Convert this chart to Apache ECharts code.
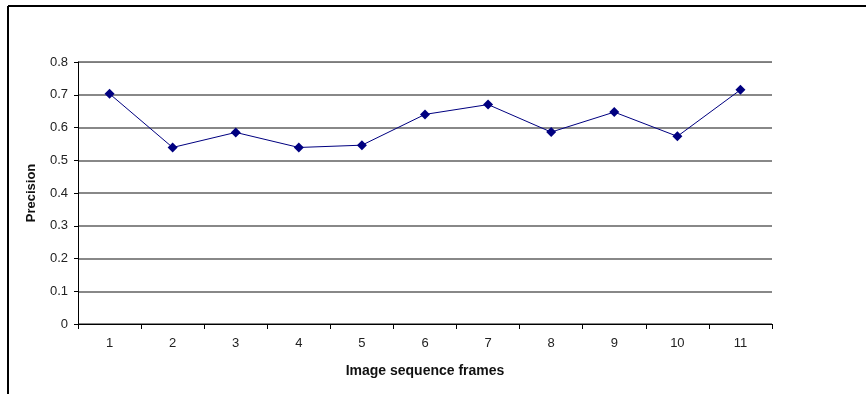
<!DOCTYPE html>
<html>
<head>
<meta charset="utf-8">
<script src="https://cdn.jsdelivr.net/npm/echarts@6/dist/echarts.min.js"></script>
<style>html,body{margin:0;padding:0;background:#fff}#c{width:866px;height:394px}</style>
</head>
<body>
<div id="c"></div>
<script>
var categories = ['1','2','3','4','5','6','7','8','9','10','11'];
var precision = [0.703, 0.539, 0.585, 0.539, 0.546, 0.640, 0.670, 0.586, 0.647, 0.573, 0.715];
var xTitle = 'Image sequence frames';
var yTitle = 'Precision';

var chart = echarts.init(document.getElementById('c'), null, {renderer: 'canvas'});
chart.setOption({
  animation: false,
  backgroundColor: '#fff',
  grid: {left: 78, right: 94, top: 62, bottom: 70, show: false},
  graphic: [
    {type: 'line', shape: {x1: 8, y1: 6, x2: 866, y2: 6}, style: {stroke: '#000', lineWidth: 2}},
    {type: 'line', shape: {x1: 8, y1: 6, x2: 8, y2: 394}, style: {stroke: '#000', lineWidth: 2}},
    {type: 'line', shape: {x1: 78, y1: 62.5, x2: 772, y2: 62.5}, style: {stroke: '#d0d0d0', lineWidth: 1}}
  ],
  xAxis: {
    type: 'category',
    data: categories,
    boundaryGap: true,
    name: xTitle,
    nameLocation: 'middle',
    nameGap: 40,
    nameTextStyle: {fontFamily: 'Liberation Sans', fontSize: 14, fontWeight: 'bold', color: '#111'},
    axisLine: {lineStyle: {color: '#000', width: 1}},
    axisTick: {show: true, alignWithLabel: false, length: 5, lineStyle: {color: '#000'}},
    axisLabel: {fontFamily: 'Liberation Sans', fontSize: 13, color: '#222', margin: 13},
    splitLine: {show: false}
  },
  yAxis: {
    type: 'value',
    min: 0, max: 0.8, interval: 0.1,
    name: yTitle,
    nameLocation: 'middle',
    nameGap: 40,
    nameTextStyle: {fontFamily: 'Liberation Sans', fontSize: 13, fontWeight: 'bold', color: '#111'},
    axisLine: {show: true, lineStyle: {color: '#000', width: 1}},
    axisTick: {show: true, length: 4, lineStyle: {color: '#000'}},
    axisLabel: {fontFamily: 'Liberation Sans', fontSize: 13, color: '#222', margin: 10,
      formatter: function (v) { return v === 0 ? '0' : v.toFixed(1); }},
    splitLine: {show: true, lineStyle: {color: '#606060', width: 1.5}}
  },
  series: [{
    type: 'line',
    data: precision,
    symbol: 'diamond',
    symbolSize: 10,
    lineStyle: {color: '#000080', width: 1},
    itemStyle: {color: '#000080'}
  }]
});
</script>
</body>
</html>
